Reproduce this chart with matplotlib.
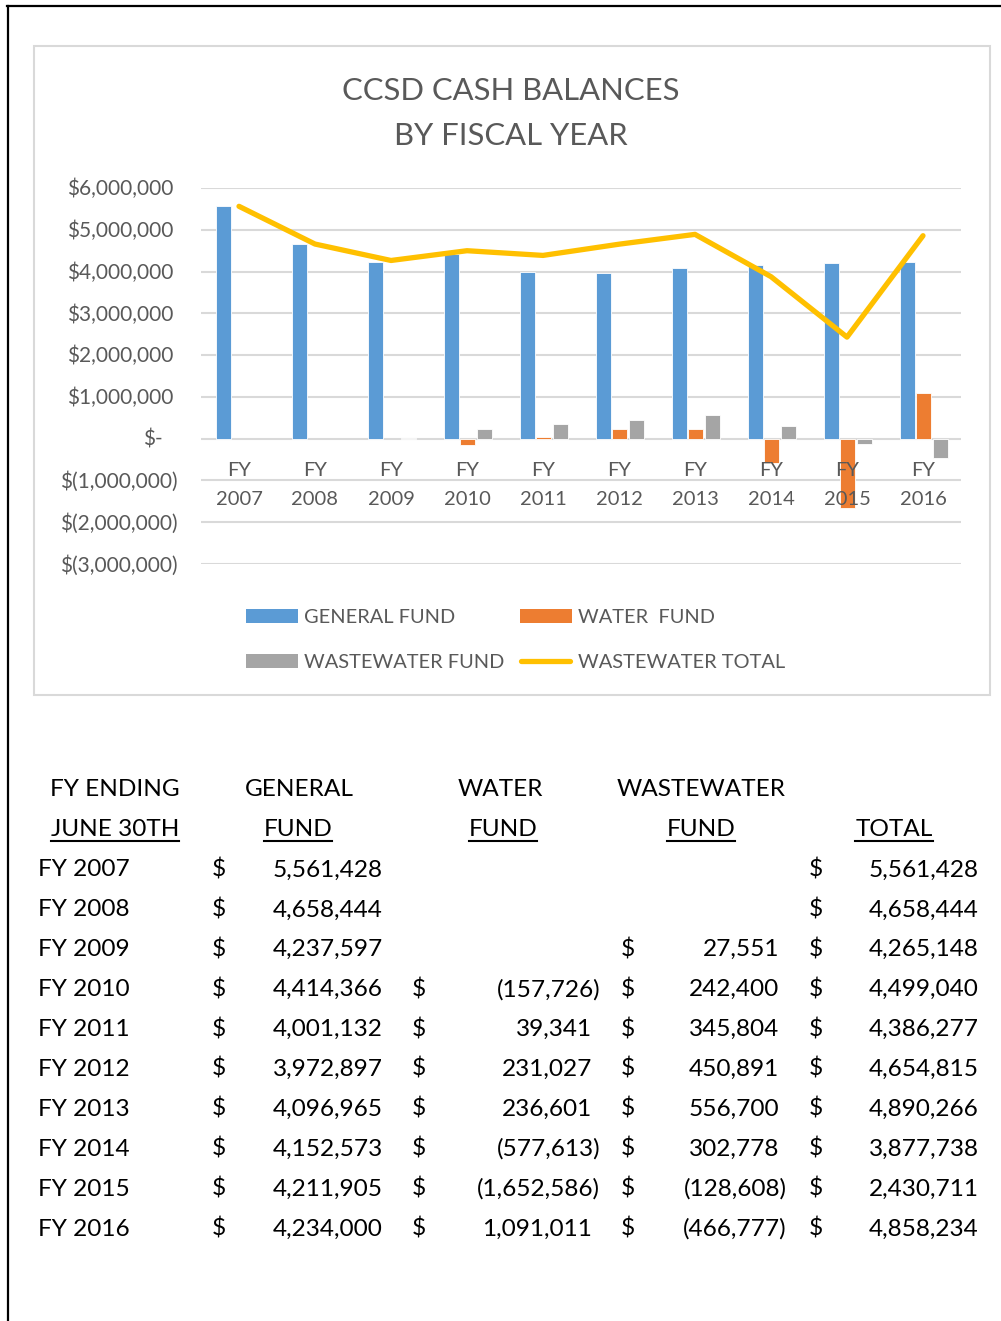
import numpy as np
import matplotlib
matplotlib.use("Agg")
import matplotlib.pyplot as plt
from matplotlib.patches import Rectangle
from matplotlib.lines import Line2D
from matplotlib.transforms import blended_transform_factory

W, H = 1001, 1321
FONT = "Lato"
GREY_TXT = "#595959"
GRID = "#D9D9D9"

years = ["2007", "2008", "2009", "2010", "2011", "2012", "2013", "2014", "2015", "2016"]
general_fund = [5561428, 4658444, 4237597, 4414366, 4001132, 3972897, 4096965, 4152573, 4211905, 4234000]
water_fund = [np.nan, np.nan, np.nan, -157726, 39341, 231027, 236601, -577613, -1652586, 1091011]
wastewater_fund = [np.nan, np.nan, 27551, 242400, 345804, 450891, 556700, 302778, -128608, -466777]
total = [5561428, 4658444, 4265148, 4499040, 4386277, 4654815, 4890266, 3877738, 2430711, 4858234]
y_ticks = [6000000, 5000000, 4000000, 3000000, 2000000, 1000000, 0, -1000000, -2000000, -3000000]

series_names = ["GENERAL FUND", "WATER  FUND", "WASTEWATER FUND", "WASTEWATER TOTAL"]
colors = ["#5B9BD5", "#ED7D31", "#A5A5A5", "#FFC000"]


def fx(x):
    return x / W


def fy(y):
    return 1 - y / H


def tick_label(v):
    if v == 0:
        return "$-"
    if v < 0:
        return f"$({-v:,.0f})"
    return f"${v:,.0f}"


def acct(v):
    if np.isnan(v):
        return ""
    if v < 0:
        return f"({-v:,.0f})"
    return f"{v:,.0f}"


fig = plt.figure(figsize=(W / 100, H / 100), dpi=100)
fig.patch.set_facecolor("white")

# page border (left and top)
fig.add_artist(Line2D([fx(8), fx(8)], [fy(6), 0], color="black", lw=1.6))
fig.add_artist(Line2D([fx(7), 1], [fy(6), fy(6)], color="black", lw=1.6))

# chart box
fig.add_artist(Rectangle((fx(34), fy(695)), fx(990 - 34), (695 - 46) / H,
                         fill=False, edgecolor=GRID, lw=1.5))

fig.text(fx(511), fy(91), "CCSD CASH BALANCES", ha="center", va="center",
         fontsize=22.3, color=GREY_TXT, family=FONT)
fig.text(fx(511), fy(136), "BY FISCAL YEAR", ha="center", va="center",
         fontsize=22.3, color=GREY_TXT, family=FONT)

ax = fig.add_axes([fx(201), fy(564), fx(961 - 201), (564 - 188) / H])
ax.set_xlim(-0.5, len(years) - 0.5)
ax.set_ylim(-3000000, 6000000)
for s in ax.spines.values():
    s.set_visible(False)
ax.set_xticks([])
ax.set_yticks([])
ax.patch.set_alpha(0)

for v in y_ticks:
    ax.axhline(v, color=GRID, lw=1.5, zorder=0)

x = np.arange(len(years))
w = 0.2
ax.bar(x - 0.205, general_fund, w, color=colors[0], edgecolor="white", lw=0.6, zorder=2)
ax.bar(x + 0.01, water_fund, w, color=colors[1], edgecolor="white", lw=0.6, zorder=2)
ax.bar(x + 0.225, wastewater_fund, w, color=colors[2], edgecolor="white", lw=0.6, zorder=2)
ax.plot(x, total, color=colors[3], lw=3.8, solid_capstyle="round",
        solid_joinstyle="round", zorder=3)

trans = blended_transform_factory(ax.transAxes, ax.transData)
for v in y_ticks:
    if v > 0:
        xr = -28
    elif v == 0:
        xr = -38
    else:
        xr = -23
    ax.text(xr / 760, v - 30000, tick_label(v), transform=trans, ha="right", va="center",
            fontsize=15, color=GREY_TXT, family=FONT)

for i, yr in enumerate(years):
    ax.text(i, -770000, "FY", ha="center", va="center", fontsize=14.5,
            color=GREY_TXT, family=FONT, zorder=5)
    ax.text(i, -1460000, yr, ha="center", va="center", fontsize=14.5,
            color=GREY_TXT, family=FONT, zorder=5)

# legend
leg_pos = [(246, 616), (520, 616), (246, 661)]
for (lx, ly), c, name in zip(leg_pos, colors[:3], series_names[:3]):
    fig.add_artist(Rectangle((fx(lx), fy(ly + 7)), fx(52), 14 / H, color=c, lw=0))
    fig.text(fx(lx + 58), fy(ly + 1), name, ha="left", va="center", fontsize=14.4,
             color=GREY_TXT, family=FONT)
fig.add_artist(Line2D([fx(521), fx(570)], [fy(661), fy(661)], color=colors[3],
                      lw=3.8, solid_capstyle="round"))
fig.text(fx(578), fy(662), series_names[3], ha="left", va="center", fontsize=14.4,
         color=GREY_TXT, family=FONT)

# table
TFS = 17.6
underlined = []


def ttext(px, py_center, s, ha="left", underline=False):
    t = fig.text(fx(px), fy(py_center + 9.5), s, ha=ha, va="baseline",
                 fontsize=TFS, color="black", family=FONT)
    if underline:
        underlined.append(t)
    return t


ttext(115, 787, "FY ENDING", ha="center")
ttext(115, 827, "JUNE 30TH", ha="center", underline=True)
ttext(299, 787, "GENERAL", ha="center")
ttext(298, 827, "FUND", ha="center", underline=True)
ttext(500, 787, "WATER", ha="center")
ttext(503, 827, "FUND", ha="center", underline=True)
ttext(701, 787, "WASTEWATER", ha="center")
ttext(701, 827, "FUND", ha="center", underline=True)
ttext(894, 827, "TOTAL", ha="center", underline=True)

for i, yr in enumerate(years):
    yc = 867 + i * 39.9
    ttext(38, yc, f"FY {yr}")
    ttext(219, yc, "$", ha="center")
    ttext(383, yc, acct(general_fund[i]), ha="right")
    if not np.isnan(water_fund[i]):
        ttext(419, yc, "$", ha="center")
        ttext(600 if water_fund[i] < 0 else 592, yc, acct(water_fund[i]), ha="right")
    if not np.isnan(wastewater_fund[i]):
        ttext(628, yc, "$", ha="center")
        ttext(787 if wastewater_fund[i] < 0 else 779, yc, acct(wastewater_fund[i]), ha="right")
    ttext(816, yc, "$", ha="center")
    ttext(979, yc, acct(total[i]), ha="right")

fig.canvas.draw()
renderer = fig.canvas.get_renderer()
for t in underlined:
    bb = t.get_window_extent(renderer)
    base_y = fy(827 + 9.5) - 4.5 / H
    fig.add_artist(Line2D([bb.x0 / W, bb.x1 / W], [base_y, base_y], color="black", lw=1.5))

fig.savefig("out.png", dpi=100)
